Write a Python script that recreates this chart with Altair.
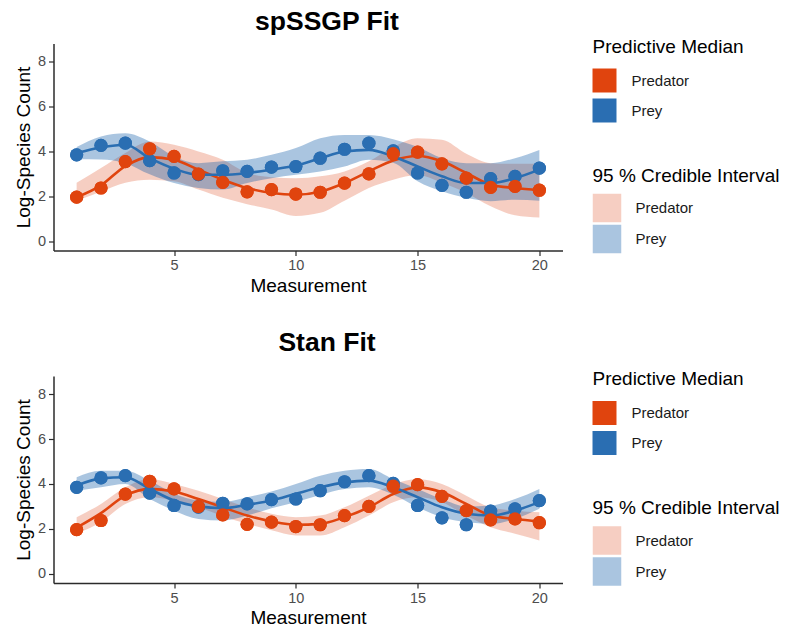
import altair as alt
import pandas as pd

# ---------------- data ----------------
measurement = list(range(1, 21))
species = ["Predator", "Prey"]

obs_predator = [1.96, 2.37, 3.55, 4.12, 3.78, 2.99, 2.62, 2.20, 2.30, 2.10,
                2.18, 2.59, 3.00, 3.90, 3.97, 3.45, 2.81, 2.40, 2.44, 2.27]
obs_prey = [3.85, 4.27, 4.37, 3.59, 3.04, 2.97, 3.14, 3.11, 3.30, 3.33,
            3.70, 4.10, 4.37, 4.03, 3.04, 2.49, 2.18, 2.79, 2.89, 3.26]

# spSSGP fit
sp_pred_med = [1.96, 2.49, 3.35, 3.75, 3.63, 3.19, 2.74, 2.37, 2.15, 2.07,
               2.20, 2.59, 3.11, 3.60, 3.80, 3.56, 3.04, 2.52, 2.37, 2.27]
sp_pred_lo = [1.80, 2.20, 2.60, 2.74, 2.67, 2.30, 1.93, 1.65, 1.41, 1.12,
              1.26, 1.80, 2.37, 2.74, 2.95, 2.60, 2.15, 1.55, 1.15, 1.05]
sp_pred_hi = [2.60, 3.26, 3.93, 4.44, 4.30, 4.00, 3.63, 3.05, 2.85, 2.80,
              2.89, 3.11, 3.56, 4.20, 4.59, 4.52, 3.90, 3.48, 3.45, 3.45]
sp_prey_med = [3.93, 4.18, 4.30, 3.70, 3.23, 2.96, 2.96, 3.04, 3.19, 3.37,
               3.70, 4.00, 4.07, 3.78, 3.33, 2.89, 2.59, 2.59, 2.81, 3.19]
sp_prey_lo = [3.65, 3.64, 3.48, 2.98, 2.59, 2.37, 2.30, 2.59, 2.81, 2.96,
              3.11, 3.33, 3.63, 3.50, 2.67, 2.22, 1.93, 1.78, 1.85, 1.80]
sp_prey_hi = [4.20, 4.67, 4.81, 4.44, 3.78, 3.48, 3.56, 3.63, 3.85, 4.15,
              4.59, 4.74, 4.74, 4.55, 4.20, 3.70, 3.48, 3.48, 3.70, 4.07]

# Stan fit
st_pred_med = [2.05, 2.70, 3.48, 3.78, 3.66, 3.33, 2.96, 2.59, 2.33, 2.18,
               2.22, 2.52, 2.96, 3.55, 3.85, 3.63, 3.11, 2.59, 2.44, 2.33]
st_pred_lo = [1.78, 2.30, 3.11, 3.41, 3.26, 2.96, 2.56, 2.22, 1.93, 1.70,
              1.70, 2.07, 2.59, 3.19, 3.41, 3.19, 2.59, 2.07, 1.78, 1.48]
st_pred_hi = [2.52, 3.11, 3.85, 4.22, 4.00, 3.70, 3.33, 2.96, 2.67, 2.52,
              2.59, 2.96, 3.48, 3.98, 4.22, 4.00, 3.48, 2.96, 2.81, 2.74]
st_prey_med = [3.93, 4.25, 4.30, 3.78, 3.26, 3.00, 2.92, 3.07, 3.26, 3.56,
               3.85, 4.07, 4.15, 3.85, 3.41, 2.96, 2.67, 2.59, 2.81, 3.19]
st_prey_lo = [3.70, 3.85, 4.00, 3.33, 2.81, 2.44, 2.37, 2.59, 2.92, 3.19,
              3.51, 3.78, 3.85, 3.52, 2.96, 2.52, 2.30, 2.22, 2.44, 2.89]
st_prey_hi = [4.30, 4.59, 4.59, 4.15, 3.56, 3.26, 3.20, 3.41, 3.66, 4.00,
              4.37, 4.59, 4.67, 4.22, 3.78, 3.33, 3.00, 3.04, 3.33, 3.78]

x_ticks = [5, 10, 15, 20]
y_ticks = [0, 2, 4, 6, 8]

# ---------------- style ----------------
FONT = "Liberation Sans"
median_colors = ["#E0440E", "#2A6EB2"]
band_colors = ["#E57351", "#0C59A6"]


def make_panel(title, title_offset, pred_med, pred_lo, pred_hi, prey_med, prey_lo, prey_hi):
    band = pd.DataFrame({
        "x": measurement * 2,
        "species": ["Predator"] * 20 + ["Prey"] * 20,
        "interval": ["Predator"] * 20 + ["Prey"] * 20,
        "lo": pred_lo + prey_lo,
        "hi": pred_hi + prey_hi,
        "med": pred_med + prey_med,
    })
    pts = pd.DataFrame({
        "x": measurement * 2,
        "species": ["Prey"] * 20 + ["Predator"] * 20,
        "y": obs_prey + obs_predator,
    })

    xscale = alt.Scale(domain=[0.05, 20.95], nice=False, zero=False)
    yscale = alt.Scale(domain=[-0.42, 8.82], nice=False, zero=False)
    xaxis = alt.Axis(values=x_ticks, title="Measurement")
    yaxis = alt.Axis(values=y_ticks, title="Log-Species Count")

    color_legend = alt.Legend(
        orient="none", legendX=539, legendY=-6, title="Predictive Median",
        symbolType="square", symbolSize=576, symbolStrokeWidth=0,
        rowPadding=6, titlePadding=12, labelOffset=15, titleLimit=400,
    )
    fill_legend = alt.Legend(
        orient="none", legendX=539, legendY=123, title="95 % Credible Interval",
        symbolType="square", symbolSize=812, symbolStrokeWidth=0,
        symbolOpacity=0.35, rowPadding=2, titlePadding=8, labelOffset=14,
        titleLimit=400,
    )
    color = alt.Color("species:N", scale=alt.Scale(domain=species, range=median_colors),
                      legend=color_legend)
    x = alt.X("x:Q", scale=xscale, axis=xaxis)

    area = alt.Chart(band).mark_area(opacity=0.35, interpolate="monotone").encode(
        x=x,
        y=alt.Y("lo:Q", scale=yscale, axis=yaxis),
        y2="hi:Q",
        fill=alt.Fill("interval:N", scale=alt.Scale(range=band_colors),
                      legend=fill_legend),
    )
    points = alt.Chart(pts).mark_circle(size=175, opacity=1).encode(
        x=x, y=alt.Y("y:Q", scale=yscale, axis=yaxis), color=color,
    )
    line = alt.Chart(band).mark_line(strokeWidth=2.6, interpolate="monotone").encode(
        x=x, y=alt.Y("med:Q", scale=yscale, axis=yaxis), color=color,
    )
    return alt.layer(area, points, line, points).properties(
        width=509, height=207,
        title=alt.TitleParams(title, fontSize=26.5, fontWeight="bold", font=FONT,
                              anchor="middle", frame="group", dx=19,
                              baseline="bottom", offset=title_offset, color="black"),
    )


top = make_panel("spSSGP Fit", -24.5, sp_pred_med, sp_pred_lo, sp_pred_hi,
                 sp_prey_med, sp_prey_lo, sp_prey_hi)
bottom = make_panel("Stan Fit", -13.5, st_pred_med, st_pred_lo, st_pred_hi,
                    st_prey_med, st_prey_lo, st_prey_hi)

chart = (
    alt.vconcat(top, bottom, spacing=34.5)
    .resolve_scale(color="independent", fill="independent")
    .resolve_legend(color="independent", fill="independent")
    .properties(padding={"left": 13.5, "top": 8.5, "right": 0, "bottom": 0})
    .configure_view(stroke=None)
    .configure_axis(
        grid=False, domainColor="#2b2b2b", domainWidth=1.5, tickColor="#2b2b2b",
        tickWidth=1.2, tickSize=5, labelFont=FONT, labelFontSize=14.5,
        labelColor="#4d4d4d", labelPadding=3, titleFont=FONT, titleFontSize=19,
        titleFontWeight="normal", titleColor="#000000", titlePadding=4,
    )
    .configure_legend(
        titleFont=FONT, titleFontSize=19, titleFontWeight="normal", titleColor="#000000",
        labelFont=FONT, labelFontSize=15, labelColor="#1a1a1a", padding=0,
    )
)

chart.save("out.html", embed_options={"renderer": "svg", "actions": False})
